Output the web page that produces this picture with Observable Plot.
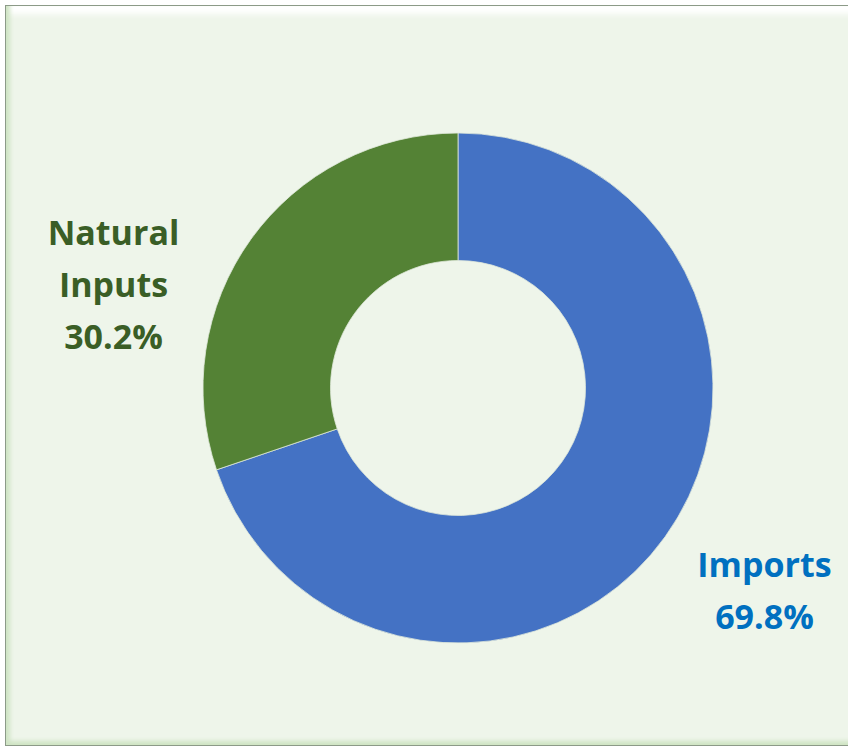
<!DOCTYPE html>
<html><head><meta charset="utf-8">
<script src="https://cdn.jsdelivr.net/npm/d3@7"></script>
<script src="https://cdn.jsdelivr.net/npm/@observablehq/plot@0.6"></script>
<style>
html,body{margin:0;padding:0;background:#fff;}
#wrap{position:relative;width:848px;height:747px;overflow:hidden;}
#frame{position:absolute;left:5px;top:5px;width:900px;height:739px;background:#EEF5EA;border:1px solid #8c9a88;
 box-shadow: inset 7px 0 4px -3px #cfe4c4, inset 0 -7px 4px -3px #cfe4c4, inset 0 12px 6px -4px #ffffff;}
#chart{position:absolute;left:0;top:0;}
</style></head><body>
<div id="wrap"><div id="frame"></div><div id="chart"></div></div>
<script>
const categories = ["Imports", "Natural Inputs"];
const values = [69.8, 30.2];
const labelTexts = ["Imports\n69.8%", "Natural\nInputs\n30.2%"];
const sliceColors = ["#4472C4", "#548235"];
const labelColors = ["#0070C0", "#3A5E26"];

const data = categories.map((c, i) => ({category: c, value: values[i]}));
// label anchor positions in chart units (radius = 1)
const labelPos = [{x: 1.2, y: -0.775}, {x: -1.353, y: 0.425}];
const labels = categories.map((c, i) => ({category: c, text: labelTexts[i], x: labelPos[i].x, y: labelPos[i].y, color: labelColors[i]}));
const innerRatio = 0.5;

function donut(index, scales) {
  const cx = scales.x(0), cy = scales.y(0);
  const r = scales.x(1) - cx;
  const arcs = d3.pie().sort(null).value(d => d.value)(data);
  const arc = d3.arc().innerRadius(r * innerRatio).outerRadius(r);
  const g = d3.create("svg:g").attr("transform", `translate(${cx},${cy})`);
  g.selectAll("path").data(arcs).join("path")
    .attr("d", arc)
    .attr("fill", (d, i) => sliceColors[i])
    .attr("stroke", "#dfe8da")
    .attr("stroke-width", 0.8);
  return g.node();
}

const chart = Plot.plot({
  width: 848,
  height: 747,
  marginLeft: 203,
  marginRight: 135,
  marginTop: 133,
  marginBottom: 104,
  style: {background: "transparent", overflow: "visible"},
  x: {domain: [-1, 1], axis: null},
  y: {domain: [-1, 1], axis: null},
  marks: [
    donut,
    Plot.text(labels, {
      x: "x", y: "y", text: "text", fill: "color",
      fontSize: 34, fontWeight: "bold", fontFamily: "Open Sans",
      lineHeight: 52 / 34, textAnchor: "middle"
    })
  ]
});
document.getElementById("chart").appendChild(chart);
</script>
</body></html>
